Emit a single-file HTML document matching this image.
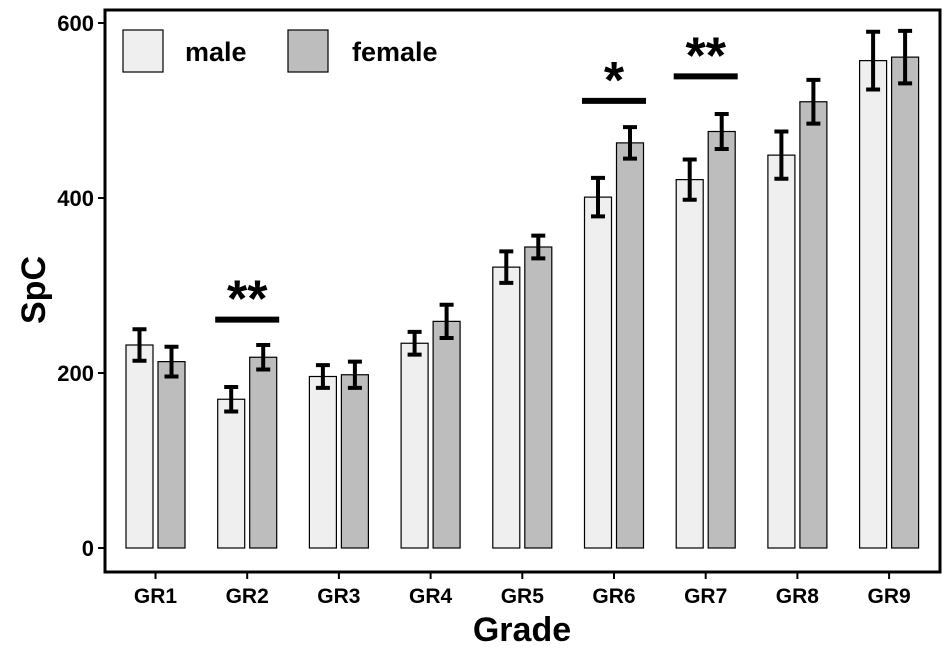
<!DOCTYPE html>
<html><head><meta charset="utf-8"><style>
body{margin:0;background:#fff;}
svg text{font-family:"Liberation Sans",sans-serif;font-weight:bold;}
</style></head><body>
<svg id="c" width="950" height="650"></svg>
<script>
const categories=["GR1","GR2","GR3","GR4","GR5","GR6","GR7","GR8","GR9"];
const maleVals=[232,170,196,234,321,401,421,449,557];
const maleErr=[18,14,13,13,18,22,23,27,33];
const femaleVals=[213,218,198,259,344,463,476,510,561];
const femaleErr=[17,14,15,19,13,18,20,25,30];
const yTicks=[0,200,400,600];
const sigCats=["GR2","GR6","GR7"];
const sigVals=[261,511,539];
const sigLabels=["**","*","**"];

const NS="http://www.w3.org/2000/svg";
const svg=document.getElementById('c');
function el(t,a,p){const e=document.createElementNS(NS,t);for(const k in a)e.setAttribute(k,a[k]);(p||svg).appendChild(e);return e;}
const y=v=>548-v*0.875;
const x=i=>155.5+i*91.7;
const frame=el('rect',{x:105,y:10,width:835,height:562,fill:'none',stroke:'#000','stroke-width':3});


yTicks.forEach(t=>{
 const l=el('line',{x1:98,x2:105,y1:y(t),y2:y(t),stroke:'#000','stroke-width':2});
 
 
 const tx=el('text',{x:94,y:y(t)+8,'text-anchor':'end','font-size':22,fill:'#000'});
 tx.textContent=t;
 
 
});
categories.forEach((c,i)=>{
 const cx=x(i);
 const l=el('line',{x1:cx,x2:cx,y1:572,y2:579,stroke:'#000','stroke-width':2});
 
 
 const tx=el('text',{x:cx,y:603,'text-anchor':'middle','font-size':21,fill:'#000'});
 tx.textContent=c;
 
 
 [[maleVals,maleErr,'#efefef',-29.5,'male'],[femaleVals,femaleErr,'#bdbdbd',2.5,'female']].forEach(([v,e,col,off,nm])=>{
  const b=el('rect',{x:cx+off,y:y(v[i]),width:27,height:y(0)-y(v[i]),fill:col,stroke:'#000','stroke-width':1.2});
  
  
  const bx=cx+off+13.5,t=y(v[i]+e[i]),bo=y(v[i]-e[i]);
  const g=el('g',{stroke:'#000','stroke-width':4});
  
  
  el('line',{x1:bx,x2:bx,y1:t,y2:bo},g);
  el('line',{x1:bx-7,x2:bx+7,y1:t,y2:t},g);
  el('line',{x1:bx-7,x2:bx+7,y1:bo,y2:bo},g);
 });
});
sigCats.forEach((c,k)=>{
 const cx=x(categories.indexOf(c));
 const l=el('line',{x1:cx-32,x2:cx+32,y1:y(sigVals[k]),y2:y(sigVals[k]),stroke:'#000','stroke-width':6});
 
 
 const tx=el('text',{x:cx,y:y(sigVals[k])-3,'text-anchor':'middle','font-size':52,fill:'#000'});
 tx.textContent=sigLabels[k];
 
 
});
[[123,'#efefef','male',185],[288,'#bdbdbd','female',352]].forEach(([lx,col,t,tx0])=>{
 const r=el('rect',{x:lx,y:30,width:40,height:42,fill:col,stroke:'#000','stroke-width':1.2});
 
 
 const tx=el('text',{x:tx0,y:61,'font-size':27,fill:'#000'});
 tx.textContent=t;
 
 
});
const xt=el('text',{x:522,y:641,'text-anchor':'middle','font-size':34,fill:'#000'});
xt.textContent='Grade';


const yt=el('text',{x:0,y:0,'text-anchor':'middle','font-size':34,fill:'#000',transform:'translate(45,290) rotate(-90)'});
yt.textContent='SpC';


</script>
</body></html>
